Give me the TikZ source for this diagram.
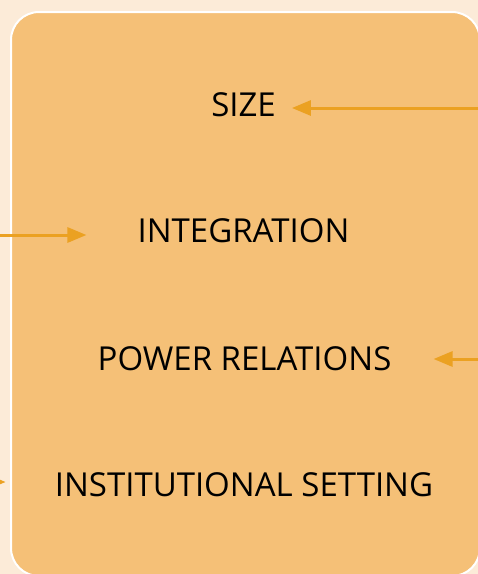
\documentclass[tikz,border=0pt]{standalone}
\usepackage{fontspec}
\setmainfont{Open Sans}
\usetikzlibrary{arrows.meta}
\definecolor{bgc}{HTML}{FCEBD8}
\definecolor{boxc}{HTML}{F5C077}
\definecolor{arrc}{HTML}{EBA122}
\tikzset{
  lbl/.style={inner sep=0pt, font=\fontsize{33}{36}\selectfont, text=black},
  arr/.style={draw=arrc, line width=3pt, -{Triangle[length=19pt,width=15pt]}},
}
\begin{document}
\begin{tikzpicture}[x=1pt,y=-1pt]
\useasboundingbox (0,0) rectangle (478,574);
\clip (0,0) rectangle (478,574);
\fill[bgc] (0,0) rectangle (478,574);
\draw[white, line width=2pt, fill=boxc, rounded corners=28pt] (11,12) rectangle (480,576);
\node[lbl] (size) at (243.5,105) {SIZE};
\node[lbl] (integ) at (243.5,231) {INTEGRATION};
\node[lbl] (power) at (244.5,359) {POWER RELATIONS};
\node[lbl] (inst) at (244,485) {INSTITUTIONAL SETTING};
\coordinate (sizeR) at (490,108);
\coordinate (integL) at (-10,235);
\coordinate (powerR) at (490,359);
\coordinate (instL) at (-30,482);
\draw[arr, shorten >=16pt] (sizeR) -- (sizeR -| size.east);
\draw[arr, shorten >=51pt] (integL) -- (integL -| integ.west);
\draw[arr, shorten >=42pt] (powerR) -- (powerR -| power.east);
\draw[arr, shorten >=49pt] (instL) -- (instL -| inst.west);
\end{tikzpicture}
\end{document}
